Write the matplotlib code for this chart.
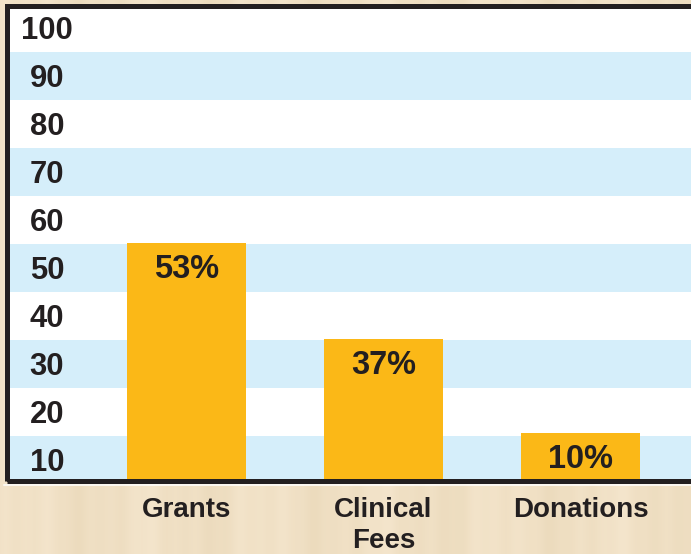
import numpy as np
import matplotlib
matplotlib.use("Agg")
import matplotlib.pyplot as plt
import matplotlib.transforms as mtransforms
from matplotlib.patches import Rectangle

plt.rcParams['font.family'] = ['Liberation Sans', 'DejaVu Sans']

# data
categories = ["Grants", "Clinical\nFees", "Donations"]
bar_heights = [50.2, 30.2, 10.6]
bar_labels = ["53%", "37%", "10%"]
band_labels = ["10", "20", "30", "40", "50", "60", "70", "80", "90", "100"]

TEXT = "#231f20"
GOLD = "#fbb817"
BLUE = "#d5eefa"
WOOD = "#ecdbbd"

W, H = 691, 554


def main():
    fig = plt.figure(figsize=(W / 100, H / 100), dpi=100)
    fig.patch.set_facecolor(WOOD)

    # faint wood grain behind everything
    bg = fig.add_axes([0, 0, 1, 1], zorder=-10)
    xs = np.linspace(0, 1, W)
    grain = (np.sin(xs * 37.0) * 0.5 + np.sin(xs * 91.0 + 1.3) * 0.3
             + np.sin(xs * 203.0 + 0.4) * 0.2)
    base = np.array([236, 219, 189]) / 255.0
    light = np.array([244, 229, 204]) / 255.0
    t = (grain - grain.min()) / (grain.max() - grain.min())
    img = base[None, :] * (1 - t[:, None]) + light[None, :] * t[:, None]
    bg.imshow(np.repeat(img[None, :, :], 2, axis=0), aspect="auto",
              extent=[0, 1, 0, 1])
    bg.set_axis_off()

    ax = fig.add_axes([9 / W, (H - 484) / H, (W - 9) / W, 480 / H])
    ax.set_facecolor("white")
    ax.set_ylim(0, 100)
    ax.set_xlim(-0.90, 2.56)
    for s in ax.spines.values():
        s.set_visible(False)
    ax.set_xticks([])
    ax.set_yticks([])

    # alternating stripes, one per label
    for i, lab in enumerate(band_labels):
        if i % 2 == 0:
            ax.axhspan(i * 10, i * 10 + 10, color=BLUE, lw=0, zorder=0)

    trans = mtransforms.blended_transform_factory(ax.transAxes, ax.transData)
    for i, lab in enumerate(band_labels):
        ax.text(0.0557, i * 10 + 10 - 7.2, lab, transform=trans,
                ha="center", va="baseline", fontsize=22.3,
                fontweight="bold", color=TEXT, zorder=3)

    x = np.arange(len(categories))
    bars = ax.bar(x, bar_heights, width=0.6, color=GOLD, lw=0, zorder=2)
    for b, lab in zip(bars, bar_labels):
        ax.annotate(lab, (b.get_x() + b.get_width() / 2, b.get_height()),
                    xytext=(0, -35), textcoords="offset pixels",
                    ha="center", va="baseline", fontsize=23.5,
                    fontweight="bold", color=TEXT, zorder=3)

    ctrans = mtransforms.blended_transform_factory(ax.transData, ax.transAxes)
    for xi, cat in zip(x, categories):
        ax.text(xi, -0.028, cat, transform=ctrans, ha="center", va="top",
                fontsize=20, fontweight="bold", color=TEXT,
                linespacing=1.22, clip_on=False)

    # dark frame round the panel, open on the right
    px = fig.dpi / 72.0
    frame = Rectangle((6.5 / W, (H - 480.5) / H), (W + 20) / W, 475 / H,
                      transform=fig.transFigure, fill=False,
                      edgecolor=TEXT, lw=5 / px, zorder=5, clip_on=False)
    fig.add_artist(frame)
    fig.add_artist(plt.Line2D([4 / W, 1], [(H - 484.5) / H] * 2,
                              transform=fig.transFigure, color="white",
                              lw=1.5 / px, zorder=5))

    fig.savefig("out.png", dpi=100, facecolor=fig.get_facecolor())


if __name__ == "__main__":
    main()
